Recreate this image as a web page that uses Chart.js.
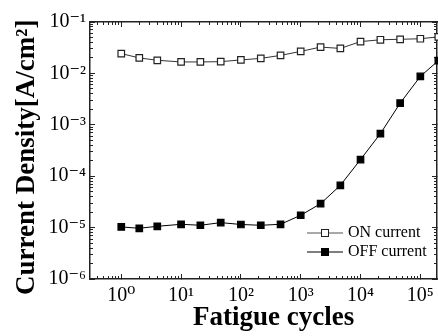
<!DOCTYPE html>
<html><head><meta charset="utf-8">
<script src="https://cdn.jsdelivr.net/npm/chart.js@4/dist/chart.umd.min.js"></script>
<style>html,body{margin:0;padding:0;background:#fff;}canvas{display:block;}</style>
</head><body>
<canvas id="c" width="438" height="336"></canvas>
<script>
// ---- data ----
const cycles = [1, 2, 4, 10, 21, 46, 100, 215, 460, 1000, 2150, 4600, 10000, 21500, 46000, 100000, 200000];
const onCurrent = [0.0243, 0.0200, 0.0180, 0.0167, 0.0167, 0.0169, 0.0183, 0.0196, 0.0224, 0.0268, 0.0325, 0.0306, 0.0416, 0.0451, 0.0461, 0.0472, 0.0514];
const offCurrent = [1.03e-5, 9.7e-6, 1.06e-5, 1.16e-5, 1.11e-5, 1.25e-5, 1.15e-5, 1.11e-5, 1.16e-5, 1.74e-5, 2.92e-5, 6.64e-5, 2.11e-4, 6.73e-4, 2.64e-3, 8.73e-3, 1.77e-2];
const seriesNames = ['ON current', 'OFF current'];
const xTickValues = [1, 10, 100, 1000, 10000, 100000];
const xTickLabels = ['10\u2070', '10\u00B9', '10\u00B2', '10\u00B3', '10\u2074', '10\u2075'];
const yTickValues = [1e-6, 1e-5, 1e-4, 1e-3, 1e-2, 1e-1];
const yTickLabels = ['10\u207B\u2076', '10\u207B\u2075', '10\u207B\u2074', '10\u207B\u00B3', '10\u207B\u00B2', '10\u207B\u00B9'];
const xTitle = 'Fatigue cycles';
const yTitle = 'Current Density[A/cm\u00B2]';

// ---- axis ranges ----
const xMin = 0.308, xMax = 190000;
const yMin = 1e-6, yMax = 0.1;

function minorTicks(lo, hi) {
  const out = [];
  for (let e = Math.floor(Math.log10(lo)); e <= Math.ceil(Math.log10(hi)); e++) {
    for (let k = 2; k <= 9; k++) {
      const v = k * Math.pow(10, e);
      if (v > lo && v < hi) out.push(v);
    }
  }
  return out;
}
const xMinor = minorTicks(xMin, xMax);
const yMinor = minorTicks(yMin, yMax);

const serif = "'Liberation Serif','DejaVu Serif','Times New Roman',serif";
const frame = '#222';

function tickOnlyAxis(dir, position, min, max, values, len, showBorder) {
  return {
    type: 'logarithmic', position, min, max, weight: -1, display: true,
    afterBuildTicks: s => { s.ticks = values.map(v => ({ value: v })); },
    afterFit: s => {
      if (dir === 'x') s.height = 0; else s.width = 0;
      s.paddingLeft = 0; s.paddingRight = 0; s.paddingTop = 0; s.paddingBottom = 0;
    },
    ticks: { display: false },
    title: { display: false },
    grid: { drawOnChartArea: false, drawTicks: true, tickLength: -len, tickColor: frame, tickWidth: 1 },
    border: { display: showBorder, color: frame, width: 1.5 }
  };
}

function symbol(fill, stroke, lineColor) {
  const c = document.createElement('canvas');
  c.width = 36; c.height = 12;
  const g = c.getContext('2d');
  g.strokeStyle = lineColor; g.lineWidth = 1.2;
  g.beginPath(); g.moveTo(0, 6); g.lineTo(36, 6); g.stroke();
  g.fillStyle = fill; g.fillRect(14, 2, 8, 8);
  if (stroke) { g.strokeStyle = stroke; g.lineWidth = 1; g.strokeRect(14.5, 2.5, 7, 7); }
  return c;
}
const symbols = [symbol('#fff', '#222', '#555'), symbol('#000', null, '#000')];

const legendMover = {
  id: 'legendMover',
  afterLayout(chart) {
    const lg = chart.legend, ca = chart.chartArea;
    if (!lg) return;
    const w = lg.width;
    lg.left = ca.right - 130; lg.right = lg.left + w;
    lg.top = ca.top + 200; lg.bottom = lg.top + 50;
  }
};

new Chart(document.getElementById('c'), {
  type: 'line',
  data: {
    datasets: [
      {
        label: seriesNames[0],
        data: cycles.map((x, i) => ({ x, y: onCurrent[i] })),
        borderColor: '#333', borderWidth: 1,
        pointStyle: 'rect', pointRadius: 4.6,
        pointBackgroundColor: '#fff', pointBorderColor: '#222', pointBorderWidth: 1.2,
        tension: 0, clip: false
      },
      {
        label: seriesNames[1],
        data: cycles.map((x, i) => ({ x, y: offCurrent[i] })),
        borderColor: '#000', borderWidth: 1,
        pointStyle: 'rect', pointRadius: 4.6,
        pointBackgroundColor: '#000', pointBorderColor: '#000', pointBorderWidth: 1.2,
        tension: 0, clip: false
      }
    ]
  },
  options: {
    responsive: false,
    animation: false,
    layout: { autoPadding: false, padding: { left: 0, right: 1, top: 22, bottom: 0 } },
    plugins: {
      tooltip: { enabled: false },
      legend: {
        position: 'chartArea',
        align: 'start',
        labels: {
          usePointStyle: true,
          pointStyleWidth: 30,
          padding: 3,
          color: '#000',
          font: { family: serif, size: 16 },
          generateLabels: chart => seriesNames.map((t, i) => ({
            text: t, pointStyle: symbols[i], fontColor: '#000',
            fillStyle: '#000', strokeStyle: '#000', lineWidth: 0, hidden: false, datasetIndex: i
          }))
        }
      }
    },
    scales: {
      x: {
        type: 'logarithmic', position: 'bottom', min: xMin, max: xMax, weight: 0,
        afterBuildTicks: s => { s.ticks = xTickValues.map(v => ({ value: v })); },
        afterFit: s => { s.height = 57; s.paddingLeft = 0; s.paddingRight = 0; },
        ticks: {
          autoSkip: false, maxRotation: 0, minRotation: 0, padding: 10, color: '#000',
          font: { family: serif, size: 20 },
          callback: v => { const i = xTickValues.indexOf(v); return i < 0 ? '' : xTickLabels[i]; }
        },
        grid: { drawOnChartArea: false, drawTicks: true, tickLength: -5, tickColor: frame, tickWidth: 1 },
        border: { display: true, color: frame, width: 1.5 },
        title: {
          display: true, text: '   ' + xTitle, color: '#000',
          font: { family: serif, size: 27, weight: 'bold', lineHeight: 1 },
          padding: { top: 0, bottom: 4 }
        }
      },
      xm: tickOnlyAxis('x', 'bottom', xMin, xMax, xMinor, 3, false),
      xt: tickOnlyAxis('x', 'top', xMin, xMax, xTickValues, 5, true),
      xtm: tickOnlyAxis('x', 'top', xMin, xMax, xMinor, 3, false),
      y: {
        type: 'logarithmic', position: 'left', min: yMin, max: yMax, weight: 0,
        afterBuildTicks: s => { s.ticks = yTickValues.map(v => ({ value: v })); },
        afterFit: s => { s.width = 90; },
        ticks: {
          autoSkip: false, padding: 9, color: '#000',
          font: { family: serif, size: 20 },
          callback: v => { const i = yTickValues.indexOf(v); return i < 0 ? '' : yTickLabels[i]; }
        },
        grid: { drawOnChartArea: false, drawTicks: true, tickLength: -5, tickColor: frame, tickWidth: 1 },
        border: { display: true, color: frame, width: 1.5 },
        title: {
          display: true, text: yTitle + '  ', color: '#000',
          font: { family: serif, size: 27, weight: 'bold', lineHeight: 1 },
          padding: { top: 13.5, bottom: 0 }
        }
      },
      ym: tickOnlyAxis('y', 'left', yMin, yMax, yMinor, 3, false),
      yr: tickOnlyAxis('y', 'right', yMin, yMax, yTickValues, 5, true),
      yrm: tickOnlyAxis('y', 'right', yMin, yMax, yMinor, 3, false)
    }
  },
  plugins: [legendMover]
});
</script>
</body></html>
